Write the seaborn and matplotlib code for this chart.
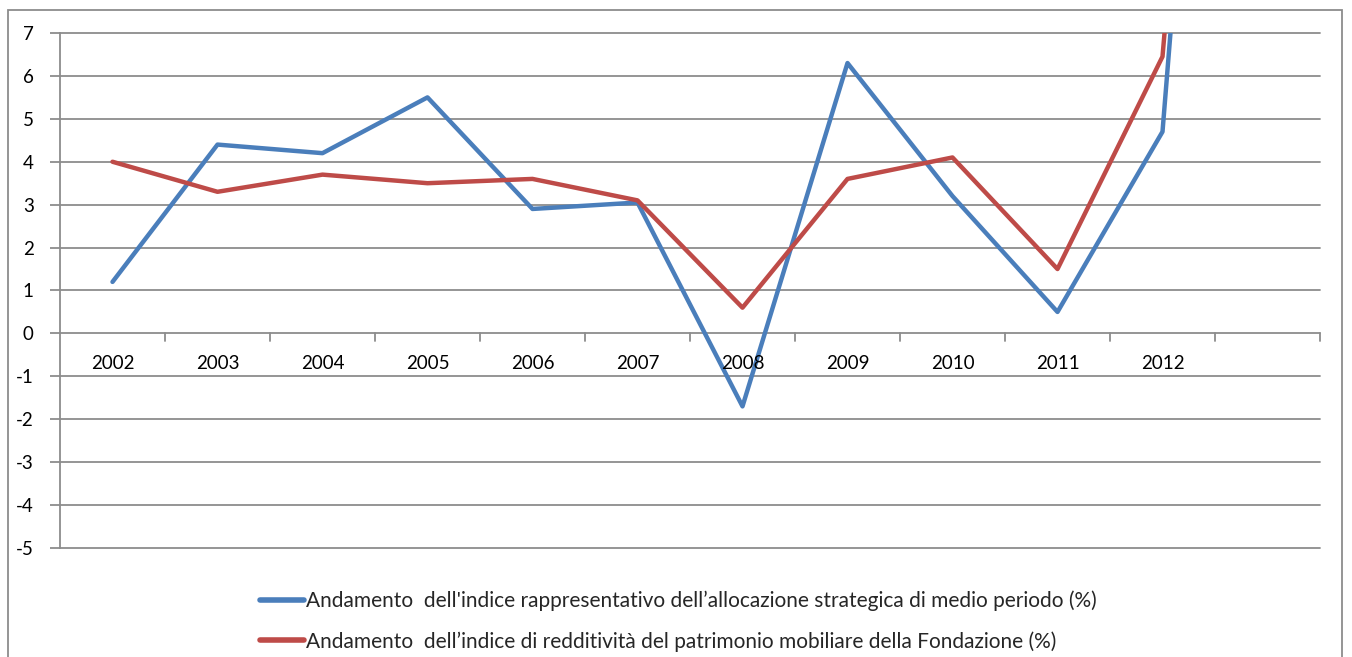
import matplotlib
matplotlib.use("Agg")
import matplotlib.pyplot as plt
import seaborn as sns
import pandas as pd
import numpy as np
from matplotlib.patches import Rectangle
from matplotlib.lines import Line2D

# ---- data ----
years = ["2002", "2003", "2004", "2005", "2006", "2007", "2008", "2009", "2010", "2011", "2012", ""]
blue_vals = [1.2, 4.4, 4.2, 5.5, 2.9, 3.05, -1.7, 6.3, 3.2, 0.5, 4.7, 35.0]
red_vals = [4.0, 3.3, 3.7, 3.5, 3.6, 3.1, 0.6, 3.6, 4.1, 1.5, 6.45, 35.0]
series_names = [
    "Andamento  dell'indice rappresentativo dell\u2019allocazione strategica di medio periodo (%)",
    "Andamento  dell\u2019indice di redditività del patrimonio mobiliare della Fondazione (%)",
]
y_ticks = list(range(-5, 8))

sns.set_theme(style="white")
plt.rcParams["font.family"] = ["Lato", "DejaVu Sans"]

pos = np.arange(len(years)) + 0.5
df = pd.DataFrame({
    "x": np.concatenate([pos, pos]),
    "value": blue_vals + red_vals,
    "serie": [series_names[0]] * len(years) + [series_names[1]] * len(years),
})
colors = ["#4A7EBB", "#BE4B48"]

fig = plt.figure(figsize=(13.52, 6.57), dpi=100)
ax = fig.add_axes([60 / 1352, 1 - 548 / 657, 1260 / 1352, 515 / 657])

sns.lineplot(data=df, x="x", y="value", hue="serie", palette=colors,
             linewidth=3.2, legend=False, ax=ax, sort=False)

ax.set_xlim(0, len(years))
ax.set_ylim(-5, 7)

# horizontal gridlines
for v in y_ticks:
    ax.axhline(v, color="#8c8c8c", linewidth=1.3, zorder=0, clip_on=False)

# y axis
ax.set_yticks(y_ticks)
ax.set_yticklabels([str(v) for v in y_ticks], fontsize=13.5, color="black")
ax.tick_params(axis="y", direction="out", length=7, width=1.3, color="#8c8c8c", pad=12, left=True)

for s in ["top", "right", "bottom"]:
    ax.spines[s].set_visible(False)
ax.spines["left"].set_color("#8c8c8c")
ax.spines["left"].set_linewidth(1.3)

# category axis at y=0 with boundary ticks
ax.set_xticks([])
ax.set_xlabel("")
ax.set_ylabel("")
for b in range(1, len(years) + 1):
    ax.plot([b, b], [0, -0.17], color="#8c8c8c", linewidth=1.3, clip_on=False, zorder=1)
for p, lab in zip(pos, years):
    ax.text(p, -0.69, lab, ha="center", va="center", fontsize=13.5, color="black")

# legend
handles = [Line2D([0], [0], color=c, linewidth=4) for c in colors]
fig.legend(handles, series_names, loc="upper left",
           bbox_to_anchor=(241 / 1352, 1 - 572 / 657), frameon=False,
           fontsize=15, handlelength=2.1, handletextpad=0.12, labelspacing=0.95)

# outer border
fig.patches.append(Rectangle((8 / 1352, -0.05), (1342 - 8) / 1352, 1.05 - 10 / 657,
                             transform=fig.transFigure, fill=False,
                             edgecolor="#8c8c8c", linewidth=1.3))

fig.savefig("out.png", dpi=100)
